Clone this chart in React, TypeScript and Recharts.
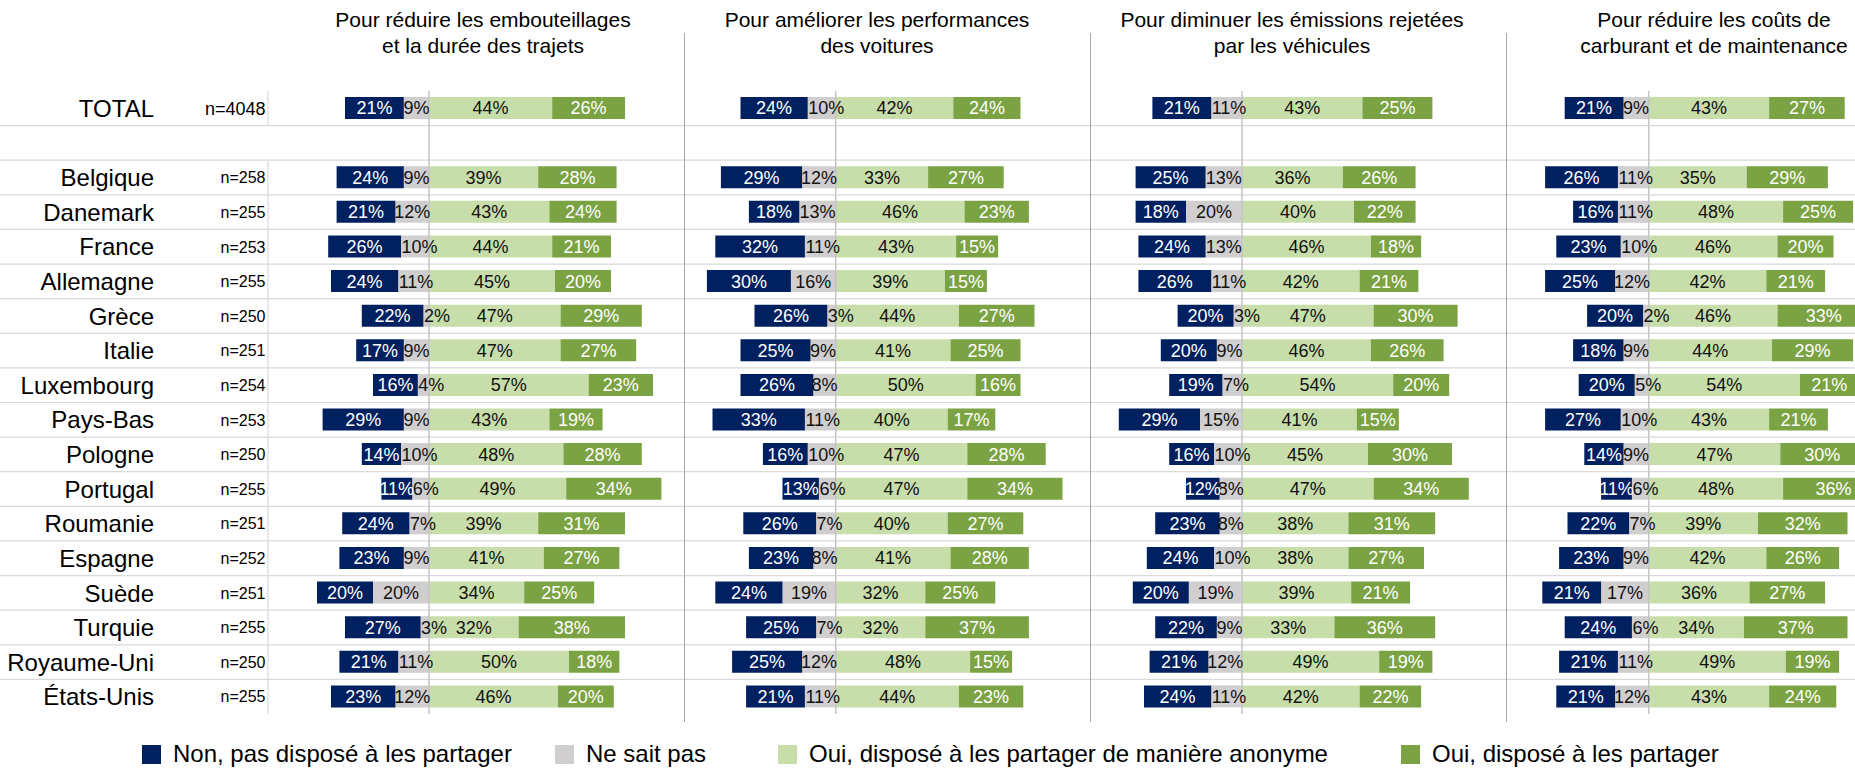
import React from 'react';
import { BarChart, Bar, XAxis, YAxis, CartesianGrid, ReferenceLine, LabelList } from 'recharts';

const FONT = "'Liberation Sans', Arial, sans-serif";

// ---------- data ----------
const rows = ['TOTAL', ' ', 'Belgique', 'Danemark', 'France', 'Allemagne', 'Grèce', 'Italie', 'Luxembourg', 'Pays-Bas', 'Pologne', 'Portugal', 'Roumanie', 'Espagne', 'Suède', 'Turquie', 'Royaume-Uni', 'États-Unis'];
const sampleSizes = [4048, null, 258, 255, 253, 255, 250, 251, 254, 253, 250, 255, 251, 252, 251, 255, 250, 255];

// Pour réduire les embouteillages et la durée des trajets
const p1Non = [21, null, 24, 21, 26, 24, 22, 17, 16, 29, 14, 11, 24, 23, 20, 27, 21, 23];
const p1Nsp = [9, null, 9, 12, 10, 11, 2, 9, 4, 9, 10, 6, 7, 9, 20, 3, 11, 12];
const p1Anon = [44, null, 39, 43, 44, 45, 47, 47, 57, 43, 48, 49, 39, 41, 34, 32, 50, 46];
const p1Oui = [26, null, 28, 24, 21, 20, 29, 27, 23, 19, 28, 34, 31, 27, 25, 38, 18, 20];

// Pour améliorer les performances des voitures
const p2Non = [24, null, 29, 18, 32, 30, 26, 25, 26, 33, 16, 13, 26, 23, 24, 25, 25, 21];
const p2Nsp = [10, null, 12, 13, 11, 16, 3, 9, 8, 11, 10, 6, 7, 8, 19, 7, 12, 11];
const p2Anon = [42, null, 33, 46, 43, 39, 44, 41, 50, 40, 47, 47, 40, 41, 32, 32, 48, 44];
const p2Oui = [24, null, 27, 23, 15, 15, 27, 25, 16, 17, 28, 34, 27, 28, 25, 37, 15, 23];

// Pour diminuer les émissions rejetées par les véhicules
const p3Non = [21, null, 25, 18, 24, 26, 20, 20, 19, 29, 16, 12, 23, 24, 20, 22, 21, 24];
const p3Nsp = [11, null, 13, 20, 13, 11, 3, 9, 7, 15, 10, 8, 8, 10, 19, 9, 12, 11];
const p3Anon = [43, null, 36, 40, 46, 42, 47, 46, 54, 41, 45, 47, 38, 38, 39, 33, 49, 42];
const p3Oui = [25, null, 26, 22, 18, 21, 30, 26, 20, 15, 30, 34, 31, 27, 21, 36, 19, 22];

// Pour réduire les coûts de carburant et de maintenance
const p4Non = [21, null, 26, 16, 23, 25, 20, 18, 20, 27, 14, 11, 22, 23, 21, 24, 21, 21];
const p4Nsp = [9, null, 11, 11, 10, 12, 2, 9, 5, 10, 9, 6, 7, 9, 17, 6, 11, 12];
const p4Anon = [43, null, 35, 48, 46, 42, 46, 44, 54, 43, 47, 48, 39, 42, 36, 34, 49, 43];
const p4Oui = [27, null, 29, 25, 20, 21, 33, 29, 21, 21, 30, 36, 32, 26, 27, 37, 19, 24];

const titles = [
  ['Pour réduire les embouteillages', 'et la durée des trajets'],
  ['Pour améliorer les performances', 'des voitures'],
  ['Pour diminuer les émissions rejetées', 'par les véhicules'],
  ['Pour réduire les coûts de', 'carburant et de maintenance'],
];

const seriesKeys = ['non', 'nsp', 'anon', 'oui'];
const stackOrder = ['nsp', 'non', 'anon', 'oui'];
const seriesNames: Record<string, string> = {
  non: 'Non, pas disposé à les partager',
  nsp: 'Ne sait pas',
  anon: 'Oui, disposé à les partager de manière anonyme',
  oui: 'Oui, disposé à les partager',
};
const COLORS: Record<string, string> = { non: '#002060', nsp: '#D0CECE', anon: '#C8DEAA', oui: '#7CA343' };
const LABEL_COLORS: Record<string, string> = { non: '#FFFFFF', nsp: '#111111', anon: '#111111', oui: '#FFFFFF' };

const panels = [
  { id: 'p1', non: p1Non, nsp: p1Nsp, anon: p1Anon, oui: p1Oui },
  { id: 'p2', non: p2Non, nsp: p2Nsp, anon: p2Anon, oui: p2Oui },
  { id: 'p3', non: p3Non, nsp: p3Nsp, anon: p3Anon, oui: p3Oui },
  { id: 'p4', non: p4Non, nsp: p4Nsp, anon: p4Anon, oui: p4Oui },
];

// ---------- layout ----------
const PAGE_W = 1855;
const PAGE_H = 769;
const CHART_W = 1920;
const MARGIN = { top: 91, right: 0, bottom: 55, left: 0 };
const PLOT_H = PAGE_H - MARGIN.top - MARGIN.bottom;
const LABEL_W = 268;
const PX_PER_PCT = 2.8;
const DOMAIN: [number, number] = [-50, 95];
const PANEL_ZERO = [429, 835.7, 1242, 1648.7];
const TITLE_CENTER = [483, 877, 1292, 1714];
const SEPARATORS = [684, 1090, 1506];
const LEGEND_LEFT = [142, 555, 778, 1401];
const LABEL_FONT = 18;

const data = rows.map((name, i) => {
  const row: any = { name };
  panels.forEach((p: any) => {
    row[`${p.id}_nsp`] = p.nsp[i] == null ? null : -p.nsp[i];
    row[`${p.id}_non`] = p.non[i] == null ? null : -p.non[i];
    row[`${p.id}_anon`] = p.anon[i];
    row[`${p.id}_oui`] = p.oui[i];
  });
  return row;
});

const RowTick = (props: any) => {
  const { y, payload } = props;
  const i = rows.indexOf(payload.value);
  const n = sampleSizes[i];
  if (n == null) return null;
  const pitch = PLOT_H / rows.length;
  return (
    <g>
      <text x={154} y={y} dy="0.36em" textAnchor="end" fontSize={24} fill="#000" fontFamily={FONT}>
        {payload.value}
      </text>
      <text x={265.5} y={y} dy="0.36em" textAnchor="end" fontSize={i === 0 ? 18 : 16} fill="#000" fontFamily={FONT}>
        {`n=${n}`}
      </text>
      <line x1={LABEL_W} x2={LABEL_W} y1={y - pitch / 2} y2={y + pitch / 2} stroke="#D9D9D9" strokeWidth={1.2} />
    </g>
  );
};

// approximate text width of a "NN%" label (Arial metrics)
const labelWidth = (txt: string) => {
  let w = 0;
  for (const c of txt) w += c === '%' ? 0.889 : 0.556;
  return w * LABEL_FONT;
};

// nudge: a too-wide "ne sait pas" label starts at the edge of its segment (as in the source)
const makeLabel = (fill: string, startWhenWide: boolean) => (props: any) => {
  const vb = props.viewBox || props;
  const { x, y, width, height } = vb;
  const value = props.value;
  if (value == null || value === 0 || x == null) return null;
  const txt = `${Math.abs(value)}%`;
  const left = Math.min(x, x + width);
  const segW = Math.abs(width);
  const tw = labelWidth(txt);
  const wide = startWhenWide && tw > segW + 4;
  return (
    <text
      x={wide ? left + 0.5 : x + width / 2}
      y={y + height / 2}
      dy="0.36em"
      textAnchor={wide ? 'start' : 'middle'}
      fontSize={LABEL_FONT}
      fill={fill}
      fontFamily={FONT}
    >
      {txt}
    </text>
  );
};

const gridGenerator = (args: any) => {
  const off = args && args.offset ? args.offset : { top: MARGIN.top, height: PLOT_H };
  const pitch = off.height / rows.length;
  const out: number[] = [];
  for (let k = 1; k < rows.length; k++) out.push(off.top + k * pitch);
  return out;
};

export default function App() {
  return (
    <div
      style={{
        position: 'fixed',
        left: 0,
        top: 0,
        width: PAGE_W,
        height: PAGE_H,
        overflow: 'hidden',
        background: '#fff',
        fontFamily: FONT,
      }}
    >
      <div style={{ position: 'absolute', left: 0, top: 0 }}>
        <BarChart
          width={CHART_W}
          height={PAGE_H}
          data={data}
          layout="vertical"
          stackOffset="sign"
          margin={MARGIN}
        >
          <CartesianGrid
            xAxisId="p1"
            yAxisId="lab"
            vertical={false}
            horizontal
            x={0}
            width={CHART_W}
            stroke="#D9D9D9"
            strokeWidth={1.2}
            horizontalCoordinatesGenerator={gridGenerator}
          />
          <YAxis
            yAxisId="lab"
            type="category"
            dataKey="name"
            width={LABEL_W}
            axisLine={false}
            tickLine={false}
            interval={0}
            tick={(p: any) => <RowTick {...p} />}
          />
          {panels.map((p) => (
            <YAxis key={`y-${p.id}`} yAxisId={p.id} type="category" dataKey="name" hide />
          ))}
          {panels.map((p) => (
            <YAxis key={`yl-${p.id}`} yAxisId={`${p.id}L`} type="category" dataKey="name" hide />
          ))}
          {panels.map((p, k) => {
            const left = PANEL_ZERO[k] + DOMAIN[0] * PX_PER_PCT;
            const right = PANEL_ZERO[k] + DOMAIN[1] * PX_PER_PCT;
            return (
              <XAxis
                key={`x-${p.id}`}
                xAxisId={p.id}
                type="number"
                domain={DOMAIN}
                allowDataOverflow
                hide
                padding={{ left: left - LABEL_W, right: CHART_W - right }}
              />
            );
          })}
          {/* coloured segments */}
          {panels.map((p) =>
            stackOrder.map((s) => (
              <Bar
                key={`${p.id}-${s}`}
                xAxisId={p.id}
                yAxisId={p.id}
                dataKey={`${p.id}_${s}`}
                stackId={p.id}
                fill={COLORS[s]}
                barSize={22}
                isAnimationActive={false}
              />
            ))
          )}
          {panels.map((p) => (
            <ReferenceLine
              key={`z-${p.id}`}
              xAxisId={p.id}
              yAxisId={p.id}
              x={0}
              stroke="#C4C4C4"
              strokeWidth={1.5}
            />
          ))}
          {/* transparent copies carrying the value labels, drawn on top */}
          {panels.map((p) =>
            stackOrder.map((s) => (
              <Bar
                key={`${p.id}-${s}-lbl`}
                xAxisId={p.id}
                yAxisId={`${p.id}L`}
                dataKey={`${p.id}_${s}`}
                stackId={`${p.id}L`}
                fill="transparent"
                fillOpacity={0}
                barSize={22}
                isAnimationActive={false}
                legendType="none"
              >
                <LabelList dataKey={`${p.id}_${s}`} content={makeLabel(LABEL_COLORS[s], s === 'nsp')} />
              </Bar>
            ))
          )}
        </BarChart>
      </div>

      {SEPARATORS.map((x, i) => (
        <div
          key={`sep-${i}`}
          style={{ position: 'absolute', left: x, top: 33, width: 1, height: 689, background: '#A6A6A6' }}
        />
      ))}

      {titles.map((t, i) => (
        <div
          key={`title-${i}`}
          style={{
            position: 'absolute',
            left: TITLE_CENTER[i],
            top: 7,
            transform: 'translateX(-50%)',
            whiteSpace: 'nowrap',
            textAlign: 'center',
            fontSize: 21,
            lineHeight: '26px',
            color: '#000',
          }}
        >
          {t[0]}
          <br />
          {t[1]}
        </div>
      ))}

      {seriesKeys.map((s, i) => (
        <div
          key={`leg-${s}`}
          style={{
            position: 'absolute',
            left: LEGEND_LEFT[i],
            top: 742,
            height: 24,
            display: 'flex',
            alignItems: 'center',
            whiteSpace: 'nowrap',
          }}
        >
          <div style={{ width: 19, height: 19, background: COLORS[s], marginRight: 12 }} />
          <span style={{ fontSize: 24, lineHeight: '24px', color: '#000' }}>{seriesNames[s]}</span>
        </div>
      ))}
    </div>
  );
}
